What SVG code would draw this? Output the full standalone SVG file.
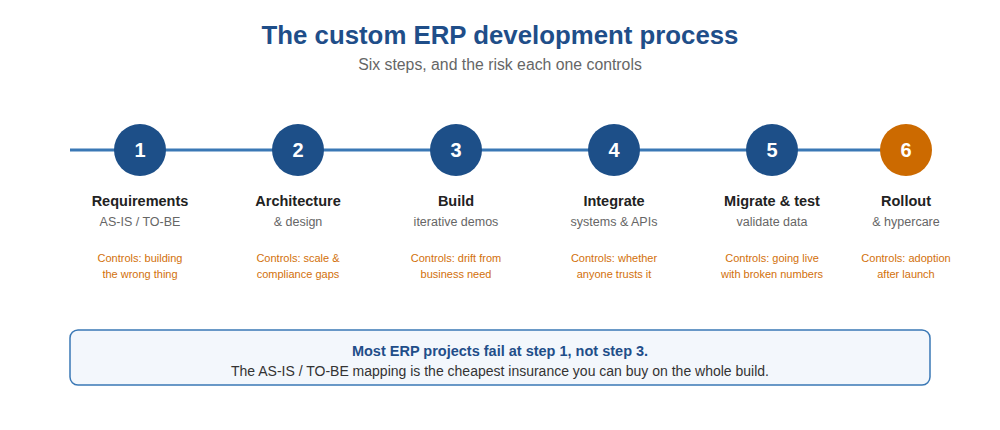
<svg xmlns="http://www.w3.org/2000/svg" width="1000" height="430" viewBox="0 0 1000 430">
<style>
text{font-family:"Liberation Sans",Arial,sans-serif;text-anchor:middle}
.title{font-size:25.8px;font-weight:bold;fill:#1f4e89}
.sub{font-size:15.8px;fill:#666}
.num{font-size:20px;font-weight:bold;fill:#fff}
.st{font-size:14.5px;font-weight:bold;fill:#222}
.ss{font-size:12.5px;fill:#666}
.ctl{font-size:11px;fill:#d2700a}
.c{fill:#1d4f88}
.c6{fill:#cc6a00}
.note1{font-size:14.5px;font-weight:bold;fill:#1f4e89}
.note2{font-size:14px;fill:#333}
</style>
<rect width="1000" height="430" fill="#fff"/>
<text class="title" x="500" y="44">The custom ERP development process</text>
<text class="sub" x="500" y="70">Six steps, and the risk each one controls</text>
<g id="connectors">
<line x1="70" y1="150" x2="906" y2="150" stroke="#3a78b5" stroke-width="3"/>
</g>
<g id="step1">
<circle class="c" cx="140" cy="150" r="26"/>
<text class="num" x="140" y="157">1</text>
<text class="st" x="140" y="206">Requirements</text>
<text class="ss" x="140" y="226">AS-IS / TO-BE</text>
<text class="ctl" x="140" y="262">Controls: building</text>
<text class="ctl" x="140" y="278">the wrong thing</text>
</g>
<g id="step2">
<circle class="c" cx="298" cy="150" r="26"/>
<text class="num" x="298" y="157">2</text>
<text class="st" x="298" y="206">Architecture</text>
<text class="ss" x="298" y="226">&amp; design</text>
<text class="ctl" x="298" y="262">Controls: scale &amp;</text>
<text class="ctl" x="298" y="278">compliance gaps</text>
</g>
<g id="step3">
<circle class="c" cx="456" cy="150" r="26"/>
<text class="num" x="456" y="157">3</text>
<text class="st" x="456" y="206">Build</text>
<text class="ss" x="456" y="226">iterative demos</text>
<text class="ctl" x="456" y="262">Controls: drift from</text>
<text class="ctl" x="456" y="278">business need</text>
</g>
<g id="step4">
<circle class="c" cx="614" cy="150" r="26"/>
<text class="num" x="614" y="157">4</text>
<text class="st" x="614" y="206">Integrate</text>
<text class="ss" x="614" y="226">systems &amp; APIs</text>
<text class="ctl" x="614" y="262">Controls: whether</text>
<text class="ctl" x="614" y="278">anyone trusts it</text>
</g>
<g id="step5">
<circle class="c" cx="772" cy="150" r="26"/>
<text class="num" x="772" y="157">5</text>
<text class="st" x="772" y="206">Migrate &amp; test</text>
<text class="ss" x="772" y="226">validate data</text>
<text class="ctl" x="772" y="262">Controls: going live</text>
<text class="ctl" x="772" y="278">with broken numbers</text>
</g>
<g id="step6">
<circle class="c6" cx="906" cy="150" r="26"/>
<text class="num" x="906" y="157">6</text>
<text class="st" x="906" y="206">Rollout</text>
<text class="ss" x="906" y="226">&amp; hypercare</text>
<text class="ctl" x="906" y="262">Controls: adoption</text>
<text class="ctl" x="906" y="278">after launch</text>
</g>
<g id="note">
<rect x="70" y="330" width="860" height="55" rx="8" fill="#f3f7fc" stroke="#3a78b5" stroke-width="1.5"/>
<text class="note1" x="500" y="356">Most ERP projects fail at step 1, not step 3.</text>
<text class="note2" x="500" y="376">The AS-IS / TO-BE mapping is the cheapest insurance you can buy on the whole build.</text>
</g>
</svg>
